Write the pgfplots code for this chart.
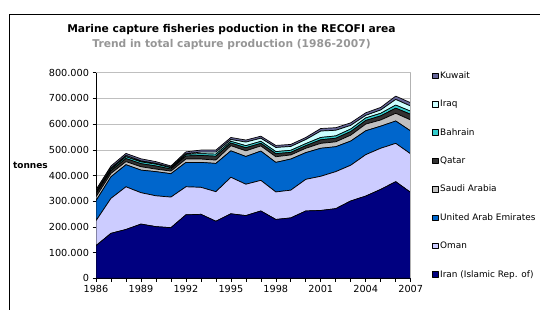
\documentclass[border=0pt]{standalone}
\usepackage{pgfplots}
\pgfplotsset{compat=1.18}
\usepackage{fontspec}
\setmainfont{DejaVu Sans}
\definecolor{iran}{HTML}{000080}
\definecolor{oman}{HTML}{CCCCFF}
\definecolor{uae}{HTML}{0066CC}
\definecolor{saudi}{HTML}{C0C0C0}
\definecolor{qatar}{HTML}{333333}
\definecolor{bahrain}{HTML}{33CCCC}
\definecolor{iraq}{HTML}{CCFFFF}
\definecolor{kuwait}{HTML}{666699}
\definecolor{subgray}{HTML}{969696}
\begin{document}
\begin{tikzpicture}
\useasboundingbox (0pt,0pt) rectangle (540pt,309pt);
\draw[line width=0.9pt] (9pt,-5pt) -- (9pt,295pt) -- (545pt,295pt);
\node[font=\bfseries\fontsize{10.7}{12}\selectfont] at (231.5pt,279pt) {Marine capture fisheries poduction in the RECOFI area};
\node[font=\bfseries\fontsize{10.7}{12}\selectfont, text=subgray] at (231.5pt,264.5pt) {Trend in total capture production (1986-2007)};
\node[font=\bfseries\fontsize{9}{10}\selectfont, anchor=west] at (9.5pt,144pt) {tonnes};
\begin{axis}[
  at={(96pt,30.7pt)}, anchor=south west,
  scale only axis, width=314.7pt, height=205.6pt,
  xmin=1986, xmax=2007, ymin=0, ymax=800000,
  stack plots=y,
  axis x line*=bottom, axis y line*=left,
  axis line style={black, line width=0.6pt},
  tick align=outside,
  major tick length=3.5pt, minor tick length=3.5pt,
  tick style={black, line width=0.6pt},
  xtick={1986,1989,...,2007},
  minor xtick={1986,...,2007},
  ytick={0,100000,...,800000},
  ymajorgrids, grid style={gray!50, line width=0.5pt},
  scaled y ticks=false,
  /pgf/number format/assume math mode=true,
  yticklabel style={/pgf/number format/.cd, fixed, 1000 sep={.}},
  xticklabel style={/pgf/number format/.cd, 1000 sep={}},
  tick label style={font=\fontsize{9.7}{11}\selectfont},
  every axis plot/.append style={draw=black, line width=0.7pt, line join=round},
  reverse legend,
  legend cell align=left,
  legend style={at={(1.068,1.016)}, anchor=north west, draw=none, fill=none,
    font=\fontsize{8.9}{10}\selectfont, row sep=16.2pt, inner sep=0pt},
  legend image code/.code={\draw[#1, line width=0.5pt, draw=black] (0pt,-2.7pt) rectangle (5.4pt,2.7pt);},
  extra description/.code={\draw[gray!60, line width=0.5pt] (rel axis cs:1,0) -- (rel axis cs:1,1);},
]
\addplot[fill=iran] coordinates {(1986,127000)(1987,175000)(1988,190000)(1989,211000)(1990,201000)(1991,197000)(1992,247000)(1993,249000)(1994,222000)(1995,251000)(1996,244000)(1997,262000)(1998,229000)(1999,235000)(2000,262000)(2001,264000)(2002,271000)(2003,301000)(2004,320000)(2005,346000)(2006,376000)(2007,334000)} \closedcycle;
\addlegendentry{Iran (Islamic Rep. of)}
\addplot[fill=oman] coordinates {(1986,97000)(1987,136000)(1988,166000)(1989,122000)(1990,120000)(1991,119000)(1992,109000)(1993,105000)(1994,115000)(1995,142000)(1996,122000)(1997,119000)(1998,107000)(1999,108000)(2000,123000)(2001,133000)(2002,144000)(2003,139000)(2004,161000)(2005,160000)(2006,149000)(2007,150000)} \closedcycle;
\addlegendentry{Oman}
\addplot[fill=uae] coordinates {(1986,78000)(1987,84000)(1988,86000)(1989,88000)(1990,94000)(1991,91000)(1992,95000)(1993,97000)(1994,110000)(1995,103000)(1996,108000)(1997,114000)(1998,115000)(1999,121000)(2000,104000)(2001,109000)(2002,97000)(2003,94000)(2004,93000)(2005,86000)(2006,87000)(2007,89000)} \closedcycle;
\addlegendentry{United Arab Emirates}
\addplot[fill=saudi] coordinates {(1986,15000)(1987,13000)(1988,12000)(1989,13000)(1990,10000)(1991,10000)(1992,13000)(1993,13000)(1994,13000)(1995,20000)(1996,22000)(1997,20000)(1998,22000)(1999,16000)(2000,17000)(2001,19000)(2002,19000)(2003,23000)(2004,26000)(2005,24000)(2006,30000)(2007,43000)} \closedcycle;
\addlegendentry{Saudi Arabia}
\addplot[fill=qatar] coordinates {(1986,12000)(1987,10000)(1988,12000)(1989,12000)(1990,12000)(1991,8000)(1992,12000)(1993,14000)(1994,15000)(1995,10000)(1996,12000)(1997,10000)(1998,12000)(1999,10000)(2000,10000)(2001,14000)(2002,14000)(2003,14000)(2004,14000)(2005,16000)(2006,20000)(2007,22000)} \closedcycle;
\addlegendentry{Qatar}
\addplot[fill=bahrain] coordinates {(1986,5000)(1987,6000)(1988,7000)(1989,7000)(1990,7000)(1991,5000)(1992,6000)(1993,7000)(1994,8000)(1995,7000)(1996,8000)(1997,8000)(1998,8000)(1999,8000)(2000,8000)(2001,9000)(2002,9000)(2003,10000)(2004,10000)(2005,10000)(2006,12000)(2007,12000)} \closedcycle;
\addlegendentry{Bahrain}
\addplot[fill=iraq] coordinates {(1986,3000)(1987,5000)(1988,5000)(1989,4000)(1990,3000)(1991,2000)(1992,3000)(1993,6000)(1994,8000)(1995,7000)(1996,14000)(1997,12000)(1998,16000)(1999,15000)(2000,16000)(2001,25000)(2002,22000)(2003,14000)(2004,10000)(2005,13000)(2006,22000)(2007,20000)} \closedcycle;
\addlegendentry{Iraq}
\addplot[fill=kuwait] coordinates {(1986,8000)(1987,8000)(1988,8000)(1989,8000)(1990,7000)(1991,5000)(1992,7000)(1993,8000)(1994,8000)(1995,8000)(1996,8000)(1997,8000)(1998,8000)(1999,8000)(2000,8000)(2001,10000)(2002,10000)(2003,10000)(2004,10000)(2005,10000)(2006,13000)(2007,13000)} \closedcycle;
\addlegendentry{Kuwait}
\end{axis}
\end{tikzpicture}
\end{document}
